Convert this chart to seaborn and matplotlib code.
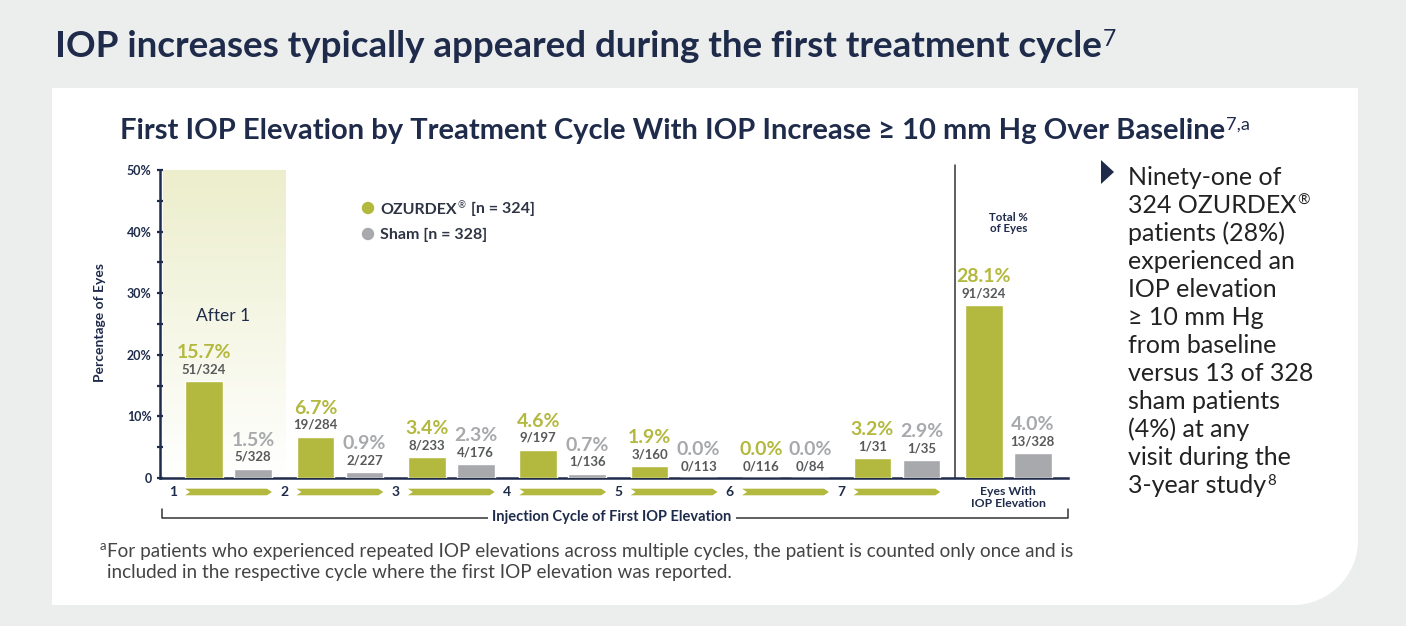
import numpy as np
import pandas as pd
import matplotlib
matplotlib.use("Agg")
import matplotlib.pyplot as plt
import matplotlib.transforms as mtransforms
from matplotlib.patches import Polygon, PathPatch, Circle
from matplotlib.path import Path
from matplotlib.lines import Line2D
import seaborn as sns

# ---------------- data ----------------
cycles = ["1", "2", "3", "4", "5", "6", "7", "Total"]
ozurdex_pct = [15.7, 6.7, 3.4, 4.6, 1.9, 0.0, 3.2, 28.1]
sham_pct = [1.5, 0.9, 2.3, 0.7, 0.0, 0.0, 2.9, 4.0]
ozurdex_counts = ["51/324", "19/284", "8/233", "9/197", "3/160", "0/116", "1/31", "91/324"]
sham_counts = ["5/328", "2/227", "4/176", "1/136", "0/113", "0/84", "1/35", "13/328"]
series = ["OZURDEX", "Sham"]
cycle_tick_labels = ["1", "2", "3", "4", "5", "6", "7"]
total_tick_label = "Eyes With\nIOP Elevation"
y_ticks = [0, 10, 20, 30, 40, 50]
y_tick_labels = ["0", "10%", "20%", "30%", "40%", "50%"]
y_minor_ticks = [5, 15, 25, 35, 45]

NAVY = "#1F2B4A"
GREEN = "#B3B83F"
GRAY = "#A7A9AC"
COUNT = "#58595B"
BG = "#ECEDED"

W, H = 1406, 626
sns.set_style("white")
plt.rcParams["font.family"] = ["Lato", "DejaVu Sans"]

fig = plt.figure(figsize=(W / 100, H / 100), dpi=100, facecolor=BG)
# pixel transform: x from left, y from top
T = mtransforms.Affine2D().scale(1 / W, -1 / H).translate(0, 1) + fig.transFigure
renderer = fig.canvas.get_renderer()

# ---------------- white panel with rounded bottom-right corner ----------------
L, R, TOP, BOT, r = 52, 1358, 88, 605, 65
k = 0.5523
verts = [(L, TOP), (R, TOP), (R, BOT - r),
         (R, BOT - r + k * r), (R - r + k * r, BOT), (R - r, BOT),
         (L, BOT), (L, TOP)]
codes = [Path.MOVETO, Path.LINETO, Path.LINETO,
         Path.CURVE4, Path.CURVE4, Path.CURVE4,
         Path.LINETO, Path.CLOSEPOLY]
fig.add_artist(PathPatch(Path(verts, codes), facecolor="white", edgecolor="none",
                         transform=T, zorder=-5))


def rich_text(x, y, segments, size, weight="normal", color=NAVY,
              sup_scale=0.62, rise=None, sup_weight="normal"):
    """segments: list of (text, is_sup). y is the baseline in pixels from top."""
    if rise is None:
        rise = size * (1 - sup_scale) * 1.0 + 1
    cx = x
    for txt, is_sup in segments:
        if is_sup:
            t = fig.text(cx + 1, y - rise, txt, transform=T, fontsize=size * sup_scale,
                         fontweight=sup_weight, color=color, va="baseline", ha="left")
        else:
            t = fig.text(cx, y, txt, transform=T, fontsize=size, fontweight=weight,
                         color=color, va="baseline", ha="left")
        bb = t.get_window_extent(renderer)
        cx = bb.x1 + (1 if is_sup else 0)
    return cx


# ---------------- titles ----------------
rich_text(55, 57, [("IOP increases typically appeared during the first treatment cycle", False),
                   ("7", True)], size=26.5, weight="bold", color=NAVY, sup_scale=0.62)
rich_text(120, 139, [("First IOP Elevation by Treatment Cycle With IOP Increase \u2265 10 mm Hg Over Baseline", False),
                     ("7,a", True)], size=21, weight="bold", color=NAVY, sup_scale=0.62)

# ---------------- axes ----------------
ax_l, ax_r, ax_y0, ax_y50 = 160, 1068, 478, 170
ax = fig.add_axes([ax_l / W, (H - ax_y0) / H, (ax_r - ax_l) / W, (ax_y0 - ax_y50) / H])
ax.set_facecolor("none")

df = pd.DataFrame({
    "cycle": cycles * 2,
    "group": [series[0]] * len(cycles) + [series[1]] * len(cycles),
    "pct": ozurdex_pct + sham_pct,
})
sns.barplot(data=df, x="cycle", y="pct", hue="group", order=cycles, hue_order=series,
            palette=[GREEN, GRAY], width=0.88, gap=0.23, saturation=1, legend=False,
            errorbar=None, ax=ax, zorder=3)

spacing = 111.4
c0 = 228.5
x_left = (ax_l - c0) / spacing
x_right = (ax_r - c0) / spacing

# gradient highlight behind first cycle
grad = np.linspace(1, 0, 256).reshape(256, 1, 1)
top_c = np.array([0.925, 0.933, 0.80]).reshape(1, 1, 3)
img = top_c * grad + np.ones((1, 1, 3)) * (1 - grad)
ax.imshow(img, extent=[(163 - c0) / spacing, (286 - c0) / spacing, 0, 50],
          aspect="auto", zorder=0, interpolation="bilinear")
ax.set_xlim(x_left, x_right)
ax.set_ylim(0, 50)
ax.text(-0.05, 26.3, "After 1", ha="center", va="center", fontsize=12.5, color=NAVY)

# spines
sns.despine(ax=ax, top=True, right=True)
for s in ["left", "bottom"]:
    ax.spines[s].set_color(NAVY)
    ax.spines[s].set_linewidth(1.8)

ax.set_yticks(y_ticks)
ax.set_yticklabels(y_tick_labels)
ax.set_yticks(y_minor_ticks, minor=True)
ax.tick_params(axis="y", which="both", direction="inout", length=4, width=1.6,
               color=NAVY, labelsize=9, labelcolor=NAVY, pad=4, left=True)
for lab in ax.get_yticklabels():
    lab.set_fontweight("bold")

xt = [i - 0.5 for i in range(len(cycle_tick_labels))] + [len(cycles) - 1]
ax.set_xticks(xt)
ax.set_xticklabels(cycle_tick_labels + [total_tick_label])
ax.tick_params(axis="x", length=0, pad=6, labelsize=10, labelcolor=NAVY)
for lab in ax.get_xticklabels():
    lab.set_fontweight("bold")
    lab.set_verticalalignment("top")
last = ax.get_xticklabels()[-1]
last.set_fontsize(8.8)
last.set_linespacing(1.05)
ax.set_xlabel("")
ax.set_ylabel("")

# arrows between cycle labels
px_per_pct = (ax_y0 - ax_y50) / 50.0
yc = -(492 - ax_y0) / px_per_pct
hh = 3.3 / px_per_pct
d = 5 / spacing
for i in range(len(cycle_tick_labels)):
    x0 = i - 0.39
    x1 = i + 0.39
    poly = Polygon([(x0, yc + hh), (x1 - d, yc + hh), (x1, yc), (x1 - d, yc - hh),
                    (x0, yc - hh), (x0 + d, yc)], closed=True, facecolor=GREEN,
                   edgecolor="none", clip_on=False, zorder=3)
    ax.add_patch(poly)

# separator before total
ax.axvline((955 - c0) / spacing, ymin=0, ymax=1.016, color="#333333", lw=1.1,
           clip_on=False, zorder=2)
ax.text(len(cycles) - 1, 41.4, "Total %\nof Eyes", ha="center", va="center",
        fontsize=8.3, fontweight="bold", color=NAVY, linespacing=1.1)

# value labels
for cont, pcts, counts, col in [(ax.containers[0], ozurdex_pct, ozurdex_counts, GREEN),
                                (ax.containers[1], sham_pct, sham_counts, GRAY)]:
    for bar, p, c in zip(cont, pcts, counts):
        xcen = bar.get_x() + bar.get_width() / 2
        h = bar.get_height()
        ax.annotate(f"{p:.1f}%", (xcen, h), xytext=(0, 20.5), textcoords="offset points",
                    ha="center", va="center", fontsize=14, fontweight="bold", color=col)
        ax.annotate(c, (xcen, h), xytext=(0, 8.5), textcoords="offset points",
                    ha="center", va="center", fontsize=9.5, fontweight="bold", color=COUNT)

# legend
for (yy, col, segs) in [(208, GREEN, [("OZURDEX", False), ("\u00ae", True), (" [n = 324]", False)]),
                        (234, GRAY, [("Sham [n = 328]", False)])]:
    fig.add_artist(Circle((368, yy), 6.2, transform=T, facecolor=col, edgecolor="none"))
    rich_text(380, yy + 5.5, segs, size=11.5, weight="bold", color="#2E3444", sup_scale=0.6)

# y label
fig.text(100 / W, 1 - 323 / H, "Percentage of Eyes", rotation=90, ha="center", va="center",
         fontsize=10, fontweight="bold", color=NAVY)

# bracket and x label
fig.add_artist(Line2D([162, 162, 1068, 1068], [509, 518, 518, 509], transform=T,
                      color="#333333", lw=1.1))
fig.text(612 / W, 1 - 517 / H, "Injection Cycle of First IOP Elevation", ha="center",
         va="center", fontsize=10.5, fontweight="bold", color=NAVY,
         bbox=dict(facecolor="white", edgecolor="none", pad=3))

# right side bullet text
fig.add_artist(Polygon([(1101, 160), (1114, 172), (1101, 184)], closed=True, transform=T,
                       facecolor=NAVY, edgecolor="none"))
lines = [[("Ninety-one of", False)],
         [("324 OZURDEX", False), ("\u00ae", True)],
         [("patients (28%)", False)],
         [("experienced an", False)],
         [("IOP elevation", False)],
         [("\u2265 10 mm Hg", False)],
         [("from baseline", False)],
         [("versus 13 of 328", False)],
         [("sham patients", False)],
         [("(4%) at any", False)],
         [("visit during the", False)],
         [("3-year study", False), ("8", True)]]
for i, segs in enumerate(lines):
    rich_text(1128, 185 + 28 * i, segs, size=18, color="#222222", sup_scale=0.6)

# footnote
fig.text(100 / W, 1 - 550 / H, "a", fontsize=9.5, color="#444444", va="baseline")
fig.text(107 / W, 1 - 557 / H,
         "For patients who experienced repeated IOP elevations across multiple cycles, "
         "the patient is counted only once and is",
         fontsize=13.6, color="#444444", va="baseline")
fig.text(107 / W, 1 - 578 / H,
         "included in the respective cycle where the first IOP elevation was reported.",
         fontsize=13.6, color="#444444", va="baseline")

fig.savefig("out.png", dpi=100, facecolor=BG)
